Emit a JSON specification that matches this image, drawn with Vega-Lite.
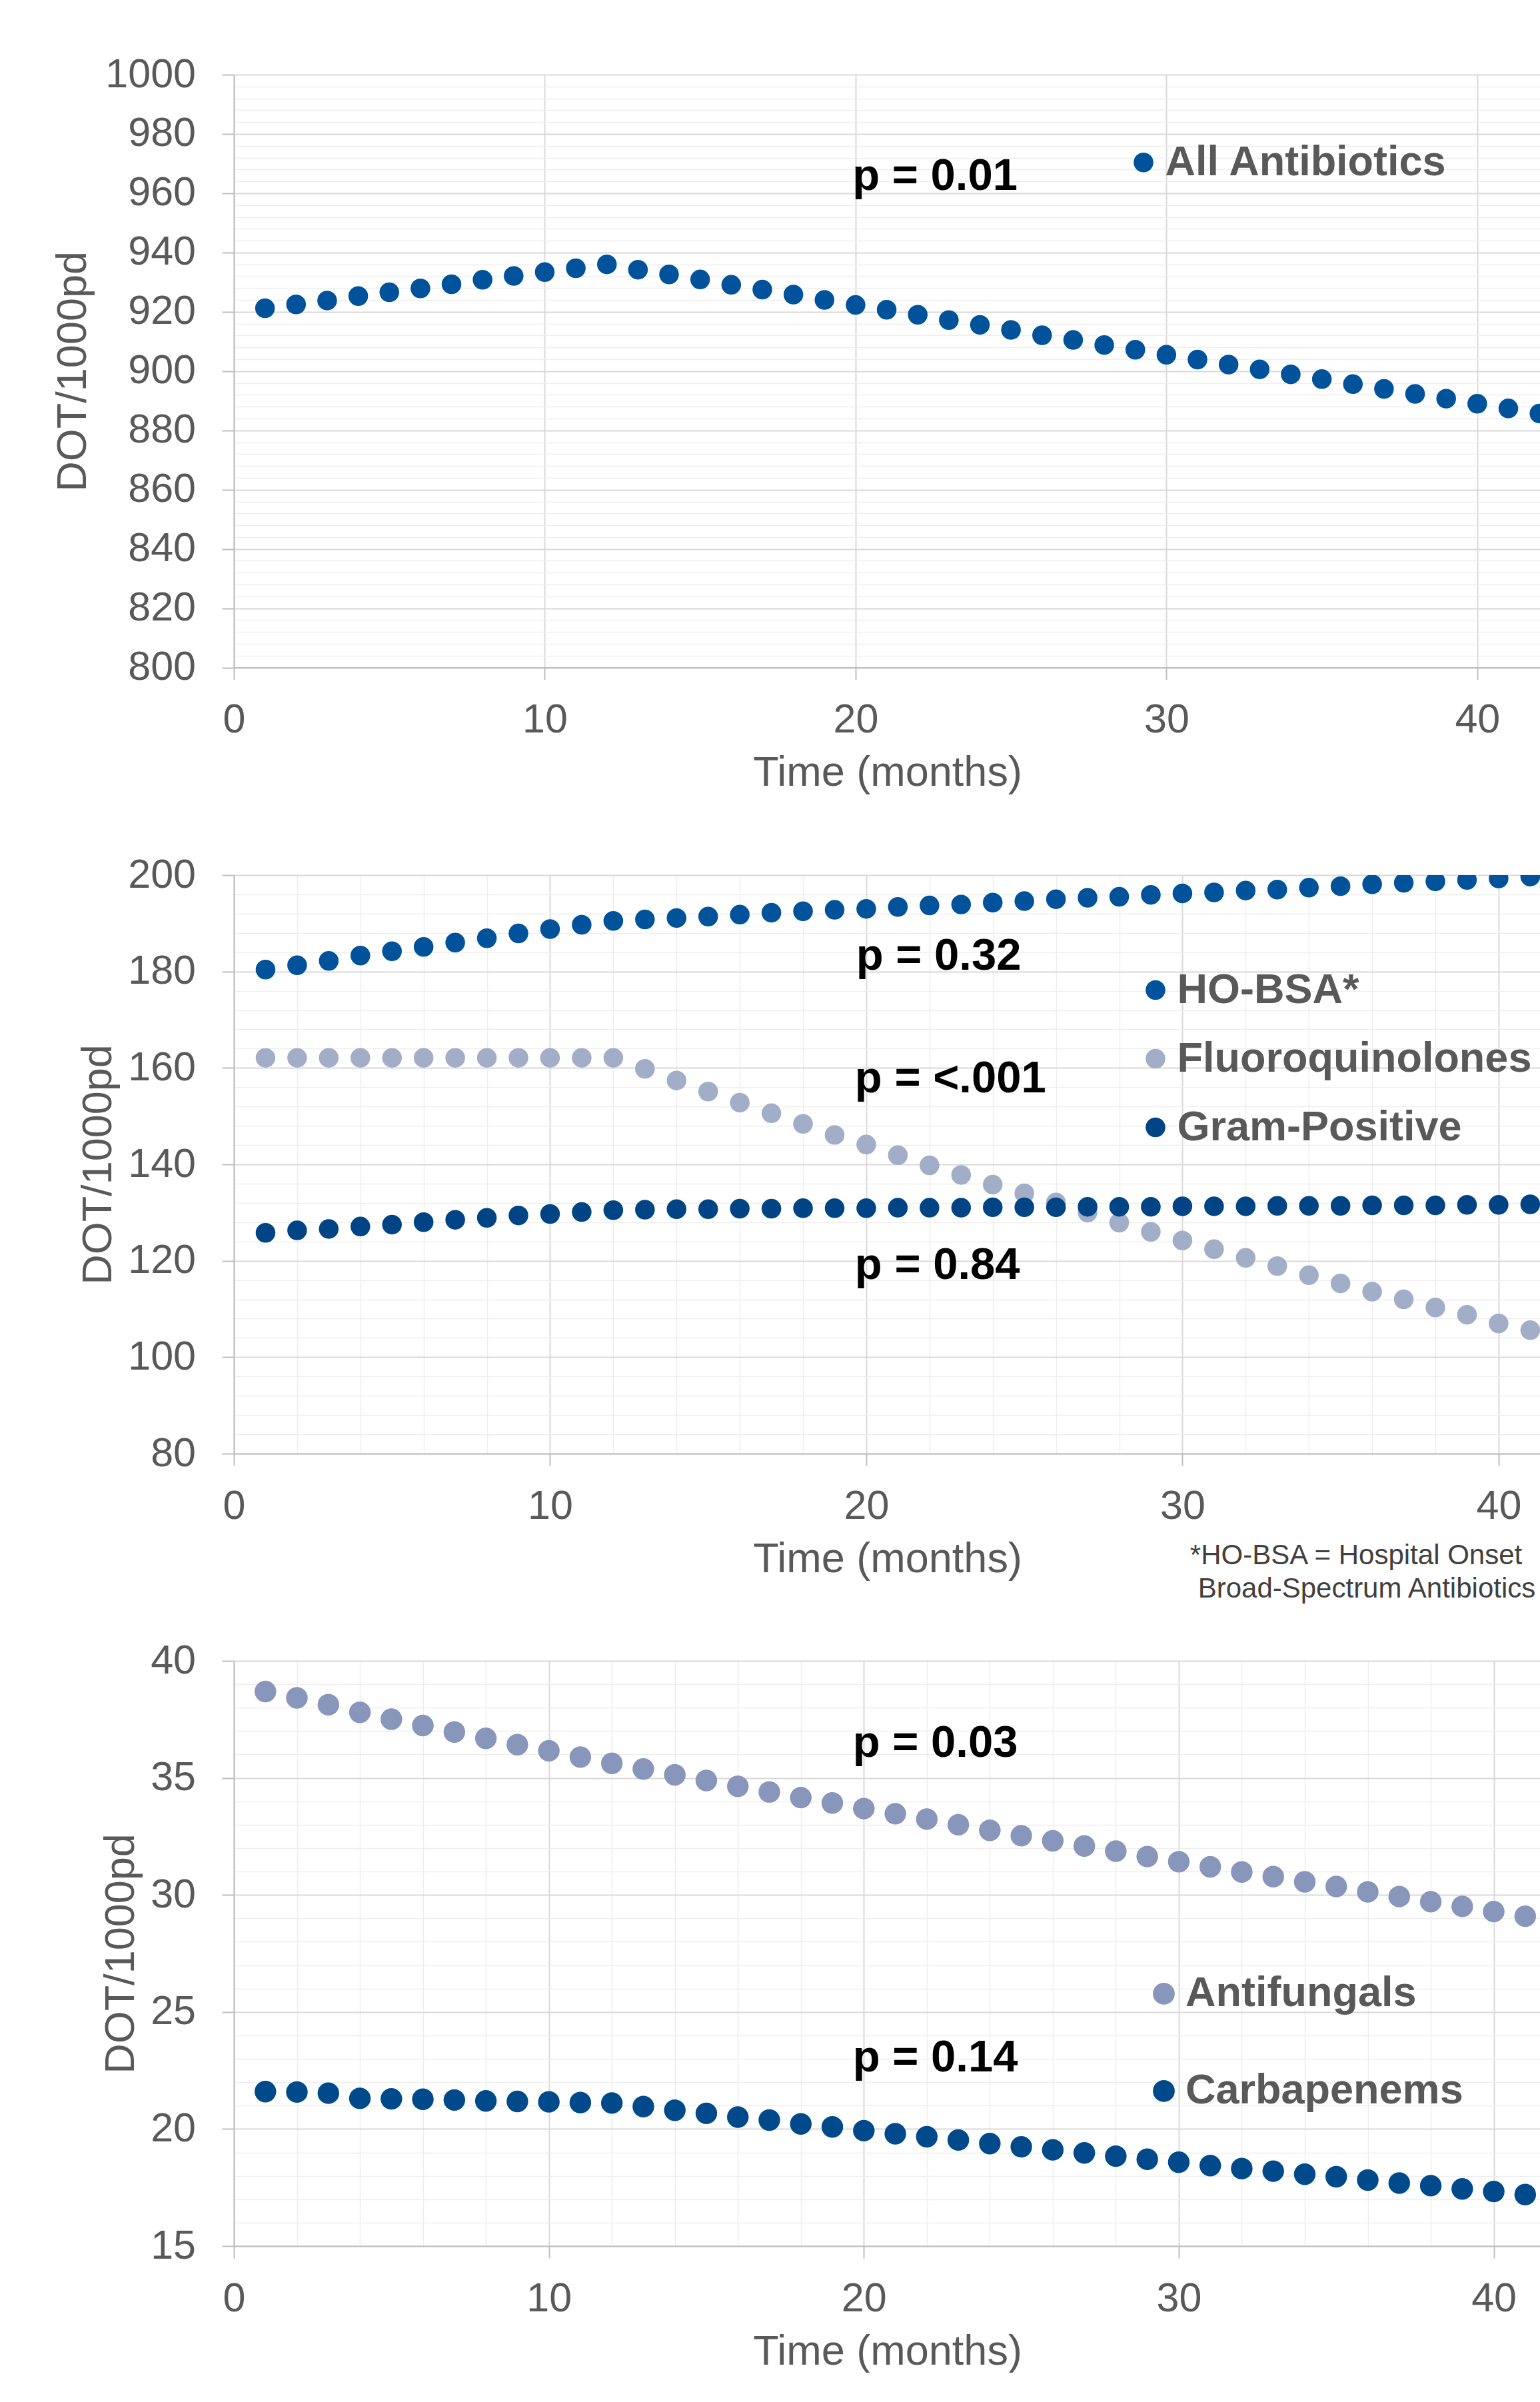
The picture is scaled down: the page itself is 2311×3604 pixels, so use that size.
{
"$schema": "https://vega.github.io/schema/vega-lite/v6.json",
"background": "white",
"padding": {"left": 78, "top": 81, "right": 0, "bottom": 0},
"bounds": "flush",
"spacing": 311,
"config": {
 "font": "Liberation Sans",
 "view": {"stroke": null},
 "axis": {"labelFont": "Liberation Sans", "titleFont": "Liberation Sans", "labelColor": "#595959", "titleColor": "#595959", "titleFontWeight": "normal", "labelFontSize": 61, "titleFontSize": 63, "domainColor": "#BFBFBF", "domainWidth": 2, "tickColor": "#BFBFBF", "tickWidth": 2, "tickSize": 18, "gridColor": "#D9D9D9", "gridWidth": 2, "labelFlush": false, "labelOverlap": false, "format": "d"},
 "legend": {"labelFont": "Liberation Sans", "labelFontSize": 63, "labelFontWeight": "bold", "labelColor": "#595959", "labelLimit": 0, "padding": 0, "labelOffset": 1, "symbolType": "circle", "symbolStrokeWidth": 0, "symbolOpacity": 1}
},
"resolve": {"scale": {"color": "independent", "x": "independent", "y": "independent"}, "legend": {"color": "independent"}},
"datasets": {
 "abx": [
  {"series":"All Antibiotics","month":1,"value":921.2},{"series":"All Antibiotics","month":2,"value":922.5},{"series":"All Antibiotics","month":3,"value":923.8},{"series":"All Antibiotics","month":4,"value":925.3},{"series":"All Antibiotics","month":5,"value":926.6},{"series":"All Antibiotics","month":6,"value":927.9},{"series":"All Antibiotics","month":7,"value":929.3},{"series":"All Antibiotics","month":8,"value":930.8},{"series":"All Antibiotics","month":9,"value":932.1},{"series":"All Antibiotics","month":10,"value":933.4},{"series":"All Antibiotics","month":11,"value":934.7},{"series":"All Antibiotics","month":12,"value":936.0},{"series":"All Antibiotics","month":13,"value":934.2},{"series":"All Antibiotics","month":14,"value":932.6},{"series":"All Antibiotics","month":15,"value":930.9},{"series":"All Antibiotics","month":16,"value":929.1},{"series":"All Antibiotics","month":17,"value":927.5},{"series":"All Antibiotics","month":18,"value":925.8},{"series":"All Antibiotics","month":19,"value":924.0},{"series":"All Antibiotics","month":20,"value":922.3},{"series":"All Antibiotics","month":21,"value":920.7},{"series":"All Antibiotics","month":22,"value":919.0},{"series":"All Antibiotics","month":23,"value":917.2},{"series":"All Antibiotics","month":24,"value":915.6},{"series":"All Antibiotics","month":25,"value":913.9},{"series":"All Antibiotics","month":26,"value":912.1},{"series":"All Antibiotics","month":27,"value":910.5},{"series":"All Antibiotics","month":28,"value":908.8},{"series":"All Antibiotics","month":29,"value":907.2},{"series":"All Antibiotics","month":30,"value":905.5},{"series":"All Antibiotics","month":31,"value":903.9},{"series":"All Antibiotics","month":32,"value":902.2},{"series":"All Antibiotics","month":33,"value":900.6},{"series":"All Antibiotics","month":34,"value":898.9},{"series":"All Antibiotics","month":35,"value":897.3},{"series":"All Antibiotics","month":36,"value":895.6},{"series":"All Antibiotics","month":37,"value":894.0},{"series":"All Antibiotics","month":38,"value":892.3},{"series":"All Antibiotics","month":39,"value":890.7},{"series":"All Antibiotics","month":40,"value":889.0},{"series":"All Antibiotics","month":41,"value":887.4},{"series":"All Antibiotics","month":42,"value":885.7}
 ],
 "groups": [
  {"series":"HO-BSA*","month":1,"value":180.4},{"series":"HO-BSA*","month":2,"value":181.3},{"series":"HO-BSA*","month":3,"value":182.2},{"series":"HO-BSA*","month":4,"value":183.3},{"series":"HO-BSA*","month":5,"value":184.2},{"series":"HO-BSA*","month":6,"value":185.1},{"series":"HO-BSA*","month":7,"value":186.0},{"series":"HO-BSA*","month":8,"value":186.9},{"series":"HO-BSA*","month":9,"value":187.9},{"series":"HO-BSA*","month":10,"value":188.8},{"series":"HO-BSA*","month":11,"value":189.7},{"series":"HO-BSA*","month":12,"value":190.5},{"series":"HO-BSA*","month":13,"value":190.8},{"series":"HO-BSA*","month":14,"value":191.1},{"series":"HO-BSA*","month":15,"value":191.4},{"series":"HO-BSA*","month":16,"value":191.8},{"series":"HO-BSA*","month":17,"value":192.2},{"series":"HO-BSA*","month":18,"value":192.5},{"series":"HO-BSA*","month":19,"value":192.8},{"series":"HO-BSA*","month":20,"value":193.0},{"series":"HO-BSA*","month":21,"value":193.4},{"series":"HO-BSA*","month":22,"value":193.7},{"series":"HO-BSA*","month":23,"value":193.9},{"series":"HO-BSA*","month":24,"value":194.3},{"series":"HO-BSA*","month":25,"value":194.6},{"series":"HO-BSA*","month":26,"value":195.0},{"series":"HO-BSA*","month":27,"value":195.3},{"series":"HO-BSA*","month":28,"value":195.5},{"series":"HO-BSA*","month":29,"value":195.9},{"series":"HO-BSA*","month":30,"value":196.2},{"series":"HO-BSA*","month":31,"value":196.4},{"series":"HO-BSA*","month":32,"value":196.8},{"series":"HO-BSA*","month":33,"value":197.0},{"series":"HO-BSA*","month":34,"value":197.4},{"series":"HO-BSA*","month":35,"value":197.7},{"series":"HO-BSA*","month":36,"value":198.1},{"series":"HO-BSA*","month":37,"value":198.4},{"series":"HO-BSA*","month":38,"value":198.7},{"series":"HO-BSA*","month":39,"value":199.0},{"series":"HO-BSA*","month":40,"value":199.3},{"series":"HO-BSA*","month":41,"value":199.7},
  {"series":"Fluoroquinolones","month":1,"value":162.1},{"series":"Fluoroquinolones","month":2,"value":162.1},{"series":"Fluoroquinolones","month":3,"value":162.1},{"series":"Fluoroquinolones","month":4,"value":162.1},{"series":"Fluoroquinolones","month":5,"value":162.1},{"series":"Fluoroquinolones","month":6,"value":162.1},{"series":"Fluoroquinolones","month":7,"value":162.1},{"series":"Fluoroquinolones","month":8,"value":162.1},{"series":"Fluoroquinolones","month":9,"value":162.1},{"series":"Fluoroquinolones","month":10,"value":162.1},{"series":"Fluoroquinolones","month":11,"value":162.1},{"series":"Fluoroquinolones","month":12,"value":162.1},{"series":"Fluoroquinolones","month":13,"value":159.8},{"series":"Fluoroquinolones","month":14,"value":157.4},{"series":"Fluoroquinolones","month":15,"value":155.1},{"series":"Fluoroquinolones","month":16,"value":152.8},{"series":"Fluoroquinolones","month":17,"value":150.6},{"series":"Fluoroquinolones","month":18,"value":148.4},{"series":"Fluoroquinolones","month":19,"value":146.1},{"series":"Fluoroquinolones","month":20,"value":144.1},{"series":"Fluoroquinolones","month":21,"value":141.9},{"series":"Fluoroquinolones","month":22,"value":139.8},{"series":"Fluoroquinolones","month":23,"value":137.8},{"series":"Fluoroquinolones","month":24,"value":135.8},{"series":"Fluoroquinolones","month":25,"value":134.0},{"series":"Fluoroquinolones","month":26,"value":132.1},{"series":"Fluoroquinolones","month":27,"value":130.0},{"series":"Fluoroquinolones","month":28,"value":127.9},{"series":"Fluoroquinolones","month":29,"value":126.0},{"series":"Fluoroquinolones","month":30,"value":124.2},{"series":"Fluoroquinolones","month":31,"value":122.4},{"series":"Fluoroquinolones","month":32,"value":120.6},{"series":"Fluoroquinolones","month":33,"value":118.9},{"series":"Fluoroquinolones","month":34,"value":117.0},{"series":"Fluoroquinolones","month":35,"value":115.3},{"series":"Fluoroquinolones","month":36,"value":113.6},{"series":"Fluoroquinolones","month":37,"value":112.0},{"series":"Fluoroquinolones","month":38,"value":110.3},{"series":"Fluoroquinolones","month":39,"value":108.8},{"series":"Fluoroquinolones","month":40,"value":107.0},{"series":"Fluoroquinolones","month":41,"value":105.6},
  {"series":"Gram-Positive","month":1,"value":125.8},{"series":"Gram-Positive","month":2,"value":126.3},{"series":"Gram-Positive","month":3,"value":126.6},{"series":"Gram-Positive","month":4,"value":127.1},{"series":"Gram-Positive","month":5,"value":127.5},{"series":"Gram-Positive","month":6,"value":128.0},{"series":"Gram-Positive","month":7,"value":128.5},{"series":"Gram-Positive","month":8,"value":128.9},{"series":"Gram-Positive","month":9,"value":129.4},{"series":"Gram-Positive","month":10,"value":129.7},{"series":"Gram-Positive","month":11,"value":130.1},{"series":"Gram-Positive","month":12,"value":130.5},{"series":"Gram-Positive","month":13,"value":130.6},{"series":"Gram-Positive","month":14,"value":130.7},{"series":"Gram-Positive","month":15,"value":130.7},{"series":"Gram-Positive","month":16,"value":130.8},{"series":"Gram-Positive","month":17,"value":130.8},{"series":"Gram-Positive","month":18,"value":130.9},{"series":"Gram-Positive","month":19,"value":130.9},{"series":"Gram-Positive","month":20,"value":130.9},{"series":"Gram-Positive","month":21,"value":131.0},{"series":"Gram-Positive","month":22,"value":131.0},{"series":"Gram-Positive","month":23,"value":131.0},{"series":"Gram-Positive","month":24,"value":131.1},{"series":"Gram-Positive","month":25,"value":131.1},{"series":"Gram-Positive","month":26,"value":131.1},{"series":"Gram-Positive","month":27,"value":131.2},{"series":"Gram-Positive","month":28,"value":131.2},{"series":"Gram-Positive","month":29,"value":131.2},{"series":"Gram-Positive","month":30,"value":131.3},{"series":"Gram-Positive","month":31,"value":131.3},{"series":"Gram-Positive","month":32,"value":131.3},{"series":"Gram-Positive","month":33,"value":131.4},{"series":"Gram-Positive","month":34,"value":131.4},{"series":"Gram-Positive","month":35,"value":131.4},{"series":"Gram-Positive","month":36,"value":131.5},{"series":"Gram-Positive","month":37,"value":131.5},{"series":"Gram-Positive","month":38,"value":131.5},{"series":"Gram-Positive","month":39,"value":131.6},{"series":"Gram-Positive","month":40,"value":131.6},{"series":"Gram-Positive","month":41,"value":131.7}
 ],
 "others": [
  {"series":"Antifungals","month":1,"value":38.69},{"series":"Antifungals","month":2,"value":38.42},{"series":"Antifungals","month":3,"value":38.13},{"series":"Antifungals","month":4,"value":37.80},{"series":"Antifungals","month":5,"value":37.51},{"series":"Antifungals","month":6,"value":37.24},{"series":"Antifungals","month":7,"value":36.96},{"series":"Antifungals","month":8,"value":36.69},{"series":"Antifungals","month":9,"value":36.42},{"series":"Antifungals","month":10,"value":36.16},{"series":"Antifungals","month":11,"value":35.89},{"series":"Antifungals","month":12,"value":35.62},{"series":"Antifungals","month":13,"value":35.38},{"series":"Antifungals","month":14,"value":35.13},{"series":"Antifungals","month":15,"value":34.89},{"series":"Antifungals","month":16,"value":34.64},{"series":"Antifungals","month":17,"value":34.40},{"series":"Antifungals","month":18,"value":34.16},{"series":"Antifungals","month":19,"value":33.93},{"series":"Antifungals","month":20,"value":33.69},{"series":"Antifungals","month":21,"value":33.47},{"series":"Antifungals","month":22,"value":33.24},{"series":"Antifungals","month":23,"value":33.00},{"series":"Antifungals","month":24,"value":32.76},{"series":"Antifungals","month":25,"value":32.53},{"series":"Antifungals","month":26,"value":32.31},{"series":"Antifungals","month":27,"value":32.09},{"series":"Antifungals","month":28,"value":31.87},{"series":"Antifungals","month":29,"value":31.64},{"series":"Antifungals","month":30,"value":31.42},{"series":"Antifungals","month":31,"value":31.20},{"series":"Antifungals","month":32,"value":30.98},{"series":"Antifungals","month":33,"value":30.78},{"series":"Antifungals","month":34,"value":30.56},{"series":"Antifungals","month":35,"value":30.36},{"series":"Antifungals","month":36,"value":30.13},{"series":"Antifungals","month":37,"value":29.93},{"series":"Antifungals","month":38,"value":29.71},{"series":"Antifungals","month":39,"value":29.51},{"series":"Antifungals","month":40,"value":29.29},{"series":"Antifungals","month":41,"value":29.09},
  {"series":"Carbapenems","month":1,"value":21.60},{"series":"Carbapenems","month":2,"value":21.58},{"series":"Carbapenems","month":3,"value":21.53},{"series":"Carbapenems","month":4,"value":21.31},{"series":"Carbapenems","month":5,"value":21.29},{"series":"Carbapenems","month":6,"value":21.27},{"series":"Carbapenems","month":7,"value":21.24},{"series":"Carbapenems","month":8,"value":21.20},{"series":"Carbapenems","month":9,"value":21.18},{"series":"Carbapenems","month":10,"value":21.16},{"series":"Carbapenems","month":11,"value":21.13},{"series":"Carbapenems","month":12,"value":21.11},{"series":"Carbapenems","month":13,"value":20.96},{"series":"Carbapenems","month":14,"value":20.80},{"series":"Carbapenems","month":15,"value":20.67},{"series":"Carbapenems","month":16,"value":20.51},{"series":"Carbapenems","month":17,"value":20.38},{"series":"Carbapenems","month":18,"value":20.22},{"series":"Carbapenems","month":19,"value":20.09},{"series":"Carbapenems","month":20,"value":19.93},{"series":"Carbapenems","month":21,"value":19.80},{"series":"Carbapenems","month":22,"value":19.67},{"series":"Carbapenems","month":23,"value":19.53},{"series":"Carbapenems","month":24,"value":19.38},{"series":"Carbapenems","month":25,"value":19.24},{"series":"Carbapenems","month":26,"value":19.11},{"series":"Carbapenems","month":27,"value":18.98},{"series":"Carbapenems","month":28,"value":18.84},{"series":"Carbapenems","month":29,"value":18.71},{"series":"Carbapenems","month":30,"value":18.58},{"series":"Carbapenems","month":31,"value":18.44},{"series":"Carbapenems","month":32,"value":18.31},{"series":"Carbapenems","month":33,"value":18.20},{"series":"Carbapenems","month":34,"value":18.07},{"series":"Carbapenems","month":35,"value":17.96},{"series":"Carbapenems","month":36,"value":17.82},{"series":"Carbapenems","month":37,"value":17.69},{"series":"Carbapenems","month":38,"value":17.58},{"series":"Carbapenems","month":39,"value":17.44},{"series":"Carbapenems","month":40,"value":17.33},{"series":"Carbapenems","month":41,"value":17.20}
 ],
 "notes1": [{"month":19.9,"value":961.1,"label":"p = 0.01"}],
 "notes2": [{"month":19.68,"value":180.4,"label":"p = 0.32"},{"month":19.64,"value":154.96,"label":"p = <.001"},{"month":19.64,"value":116.2,"label":"p = 0.84"}],
 "foot2": [{"month":30.24,"value":57.05,"label":"*HO-BSA = Hospital Onset"},{"month":30.49,"value":50.14,"label":"Broad-Spectrum Antibiotics"}],
 "notes3": [{"month":19.65,"value":35.91,"label":"p = 0.03"},{"month":19.65,"value":22.47,"label":"p = 0.14"}]
},
"vconcat": [
 {
  "width": 1961, "height": 889.6,
  "resolve": {"axis": {"x": "independent", "y": "independent"}},
  "layer": [
   {
    "data": {"name": "abx"},
    "mark": {"type": "circle", "size": 870, "opacity": 1, "clip": true},
    "encoding": {
     "x": {"field": "month", "type": "quantitative", "scale": {"domain": [0, 42.04], "nice": false, "zero": false},
       "axis": {"orient": "bottom", "values": [0,10,20,30,40], "grid": true, "labelPadding": 31, "title": "Time (months)", "titlePadding": 18}},
     "y": {"field": "value", "type": "quantitative", "scale": {"domain": [800, 1000], "nice": false, "zero": false},
       "axis": {"orient": "left", "values": [800,820,840,860,880,900,920,940,960,980,1000], "grid": true, "labelPadding": 39.5, "title": "DOT/1000pd", "titlePadding": 16}},
     "color": {"field": "series", "type": "nominal", "scale": {"domain": ["All Antibiotics"], "range": ["#00529B"]},
       "legend": {"orient": "none", "legendX": 1333.5, "legendY": 100.3, "title": null, "symbolSize": 870}}
    }
   },
   {
    "data": {"name": "notes1"},
    "mark": {"type": "text", "align": "left", "baseline": "alphabetic", "fontSize": 67, "fontWeight": "bold", "color": "#000000"},
    "encoding": {
     "x": {"field": "month", "type": "quantitative", "axis": null},
     "y": {"field": "value", "type": "quantitative",
       "axis": {"orient": "left", "values": [804,808,812,816,824,828,832,836,844,848,852,856,864,868,872,876,884,888,892,896,904,908,912,916,924,928,932,936,944,948,952,956,964,968,972,976,984,988,992,996], "grid": true, "gridColor": "#EEEEEE", "gridWidth": 1.5, "labels": false, "ticks": false, "domain": false, "title": null}},
     "text": {"field": "label"}
    }
   },
   {
    "mark": {"type": "rule", "color": "#0B55A0", "strokeWidth": 2},
    "encoding": {"x": {"datum": 12.2, "type": "quantitative", "axis": null}}
   }
  ]
 },
 {
  "width": 1961, "height": 868,
  "resolve": {"axis": {"x": "independent", "y": "independent"}},
  "layer": [
   {
    "data": {"name": "groups"},
    "mark": {"type": "circle", "size": 870, "opacity": 1, "clip": true},
    "encoding": {
     "x": {"field": "month", "type": "quantitative", "scale": {"domain": [0, 41.33], "nice": false, "zero": false},
       "axis": {"orient": "bottom", "values": [0,10,20,30,40], "grid": true, "labelPadding": 31, "title": "Time (months)", "titlePadding": 18}},
     "y": {"field": "value", "type": "quantitative", "scale": {"domain": [80, 200], "nice": false, "zero": false},
       "axis": {"orient": "left", "values": [80,100,120,140,160,180,200], "grid": true, "labelPadding": 39.5, "title": "DOT/1000pd", "titlePadding": 12}},
     "color": {"field": "series", "type": "nominal", "scale": {"domain": ["HO-BSA*", "Fluoroquinolones", "Gram-Positive"], "range": ["#00529B", "#A2ADC8", "#004485"]},
       "legend": {"orient": "none", "legendX": 1351.5, "legendY": 141, "title": null, "symbolSize": 870, "rowPadding": 39}}
    }
   },
   {
    "data": {"name": "notes2"},
    "mark": {"type": "text", "align": "left", "baseline": "alphabetic", "fontSize": 67, "fontWeight": "bold", "color": "#000000"},
    "encoding": {
     "x": {"field": "month", "type": "quantitative",
       "axis": {"orient": "bottom", "values": [2,4,6,8,12,14,16,18,22,24,26,28,32,34,36,38], "grid": true, "gridColor": "#EEEEEE", "gridWidth": 1.5, "labels": false, "ticks": false, "domain": false, "title": null}},
     "y": {"field": "value", "type": "quantitative",
       "axis": {"orient": "left", "values": [84,88,92,96,104,108,112,116,124,128,132,136,144,148,152,156,164,168,172,176,184,188,192,196], "grid": true, "gridColor": "#EEEEEE", "gridWidth": 1.5, "labels": false, "ticks": false, "domain": false, "title": null}},
     "text": {"field": "label"}
    }
   },
   {
    "data": {"name": "foot2"},
    "mark": {"type": "text", "align": "left", "baseline": "alphabetic", "fontSize": 42, "color": "#404040"},
    "encoding": {
     "x": {"field": "month", "type": "quantitative", "axis": null},
     "y": {"field": "value", "type": "quantitative", "axis": null},
     "text": {"field": "label"}
    }
   },
   {
    "mark": {"type": "rule", "color": "#0B55A0", "strokeWidth": 2},
    "encoding": {"x": {"datum": 12, "type": "quantitative", "axis": null}}
   }
  ]
 },
 {
  "width": 1961, "height": 878,
  "resolve": {"axis": {"x": "independent", "y": "independent"}},
  "layer": [
   {
    "data": {"name": "others"},
    "mark": {"type": "circle", "size": 1050, "opacity": 1, "clip": true},
    "encoding": {
     "x": {"field": "month", "type": "quantitative", "scale": {"domain": [0, 41.49], "nice": false, "zero": false},
       "axis": {"orient": "bottom", "values": [0,10,20,30,40], "grid": true, "labelPadding": 31, "title": "Time (months)", "titlePadding": 18}},
     "y": {"field": "value", "type": "quantitative", "scale": {"domain": [15, 40], "nice": false, "zero": false},
       "axis": {"orient": "left", "values": [15,20,25,30,35,40], "grid": true, "labelPadding": 39.5, "title": "DOT/1000pd", "titlePadding": 12}},
     "color": {"field": "series", "type": "nominal", "scale": {"domain": ["Antifungals", "Carbapenems"], "range": ["#8796BA", "#004A8C"]},
       "legend": {"orient": "none", "legendX": 1364, "legendY": 467.9, "title": null, "symbolSize": 1075, "rowPadding": 82}}
    }
   },
   {
    "data": {"name": "notes3"},
    "mark": {"type": "text", "align": "left", "baseline": "alphabetic", "fontSize": 67, "fontWeight": "bold", "color": "#000000"},
    "encoding": {
     "x": {"field": "month", "type": "quantitative",
       "axis": {"orient": "bottom", "values": [2,4,6,8,12,14,16,18,22,24,26,28,32,34,36,38], "grid": true, "gridColor": "#EEEEEE", "gridWidth": 1.5, "labels": false, "ticks": false, "domain": false, "title": null}},
     "y": {"field": "value", "type": "quantitative",
       "axis": {"orient": "left", "values": [16,17,18,19,21,22,23,24,26,27,28,29,31,32,33,34,36,37,38,39], "grid": true, "gridColor": "#EEEEEE", "gridWidth": 1.5, "labels": false, "ticks": false, "domain": false, "title": null}},
     "text": {"field": "label"}
    }
   },
   {
    "mark": {"type": "rule", "color": "#0B55A0", "strokeWidth": 2},
    "encoding": {"x": {"datum": 12, "type": "quantitative", "axis": null}}
   }
  ]
 }
]
}
